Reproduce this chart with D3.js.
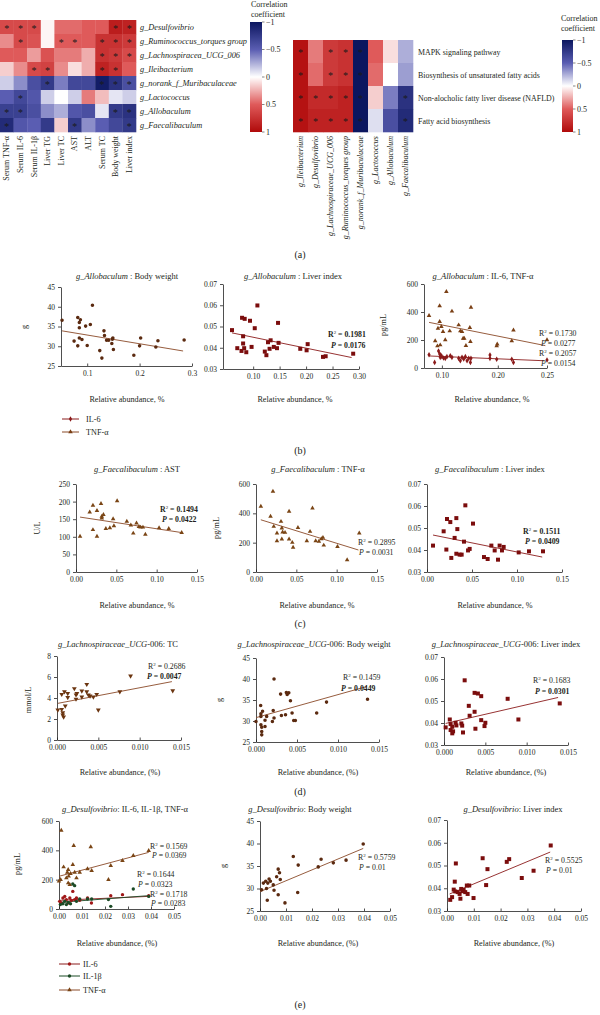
<!DOCTYPE html>
<html><head><meta charset="utf-8">
<script src="https://cdn.jsdelivr.net/npm/d3@7/dist/d3.min.js"></script>
<style>
body{margin:0;background:#fff;}
svg{display:block;font-family:"Liberation Serif","DejaVu Serif",serif;}
</style></head><body>
<svg id="c" width="600" height="1015"></svg>
<script>
// ================= DATA =================
const leftRows = ["g_Desulfovibrio","g_Ruminococcus_torques group","g_Lachnospiracea_UCG_006","g_Ileibacterium","g_norank_f_Muribaculaceae","g_Lactococcus","g_Allobaculum","g_Faecalibaculum"];
const leftCols = ["Serum TNF-α","Serum IL-6","Serum IL-1β","Liver TG","Liver TC","AST","ALT","Serum TC","Body weight","Liver index"];
const leftValues = [
 [0.6,0.6,0.6,0.03,0.45,0.45,0.5,0.5,0.88,0.85],
 [0.35,0.6,0.55,0.03,0.5,0.5,0.5,0.75,0.75,0.7],
 [0.5,0.5,0.3,0.55,0.4,0.4,0.25,0.75,0.7,0.6],
 [0.15,0.35,0.6,0.65,0.35,0.1,0.25,0.85,0.75,0.5],
 [-0.15,-0.35,-0.6,-0.75,-0.4,-0.65,-0.65,-0.95,-0.8,-0.6],
 [-0.5,-0.65,-0.55,-0.15,0.0,-0.15,0.4,0.2,-0.08,-0.15],
 [-0.7,-0.7,-0.6,-0.35,-0.25,-0.55,-0.6,-0.08,-0.75,-0.8],
 [-0.85,-0.55,-0.5,-0.75,0.15,-0.75,-0.35,-0.5,-0.65,-0.75]
];
const leftSig = [[0,1,2,8,9],[1,4,5,7,8,9],[7,8,9],[2,3,7,8],[3,7,8,9],[1],[0,1,8,9],[0,5,9]];

const rightRows = ["MAPK signaling pathway","Biosynthesis of unsaturated fatty acids","Non-alocholic fatty liver disease (NAFLD)","Fatty acid biosynthesis"];
const rightCols = ["g_Ileibacterium","g_Desulfovibrio","g_Lachnospiraceae_UCG_006","g_Ruminococcus_torques group","g_norank_f_Muribaculaceae","g_Lactococcus","g_Allobaculum","g_Faecalibaculum"];
const rightValues = [
 [0.95,0.4,0.7,0.75,-1,0.5,0.1,-0.25],
 [0.95,0.45,0.7,0.75,-1,0.45,0.0,-0.3],
 [0.95,0.8,0.8,0.85,-1,0.15,-0.4,-0.8],
 [0.95,0.85,0.85,0.85,-1,-0.1,-0.6,-0.85]
];
const rightSig = [[0,2,3,4],[0,2,3,4],[0,1,2,3,4,7],[0,1,2,3,4,7]];
const corrTicks = [-1,-0.5,0,0.5,1];

// (b) Allobaculum
const b1Weight = [[0.052,36.6],[0.082,37.3],[0.087,36.7],[0.085,36.0],[0.085,34.7],[0.097,35.1],[0.106,35.5],[0.110,40.4],[0.075,31.3],[0.085,32.1],[0.090,31.7],[0.082,30.1],[0.100,30.2],[0.132,33.9],[0.133,32.7],[0.137,31.5],[0.141,31.5],[0.148,31.8],[0.147,30.7],[0.149,32.1],[0.150,29.2],[0.124,28.9],[0.128,27.0],[0.189,27.7],[0.200,30.1],[0.202,32.1],[0.231,29.8],[0.235,31.4],[0.285,31.6]];
const b1WeightFit = [[0.052,33.9],[0.283,28.8]];
const b2Liver = [[0.060,0.0483],[0.070,0.0398],[0.078,0.0385],[0.079,0.0541],[0.084,0.0536],[0.081,0.0454],[0.081,0.0420],[0.083,0.0398],[0.087,0.0379],[0.094,0.0527],[0.097,0.0404],[0.103,0.0492],[0.108,0.0599],[0.122,0.0382],[0.125,0.0365],[0.128,0.0426],[0.131,0.0395],[0.133,0.0435],[0.139,0.0404],[0.145,0.0398],[0.147,0.0517],[0.148,0.0423],[0.189,0.0395],[0.201,0.0388],[0.203,0.0417],[0.232,0.0357],[0.237,0.0360],[0.289,0.0372]];
const b2LiverFit = [[0.060,0.0470],[0.286,0.0354]];
const b3TNF = [[0.077,374],[0.096,443],[0.096,331],[0.099,295],[0.093,283],[0.088,193],[0.092,157],[0.097,164],[0.102,260],[0.106,200],[0.108,545],[0.118,405],[0.114,264],[0.130,307],[0.133,264],[0.136,260],[0.138,212],[0.140,212],[0.143,160],[0.150,288],[0.151,188],[0.152,433],[0.199,171],[0.198,157],[0.225,193],[0.228,271],[0.288,200]];
const b3TNFFit = [[0.077,326],[0.285,160]];
const b3IL6 = [[0.077,95],[0.087,40],[0.094,121],[0.096,100],[0.097,76],[0.098,93],[0.100,81],[0.103,71],[0.106,69],[0.109,81],[0.115,88],[0.118,76],[0.130,69],[0.133,52],[0.136,76],[0.139,64],[0.142,81],[0.145,52],[0.148,69],[0.151,40],[0.152,69],[0.186,93],[0.186,69],[0.198,62],[0.225,62],[0.228,40],[0.288,57]];
const b3IL6Fit = [[0.077,86],[0.282,52]];
const b3XTicks = [0.10,0.20,0.288];
const b3XLabels = ["0.10","0.20","0.25"];

// (c) Faecalibaculum
const c1AST = [[0.005,101],[0.017,170],[0.021,189],[0.026,174],[0.021,120],[0.026,101],[0.031,194],[0.032,158],[0.034,163],[0.032,153],[0.037,123],[0.042,125],[0.046,151],[0.047,131],[0.051,202],[0.063,144],[0.068,133],[0.071,110],[0.075,139],[0.078,129],[0.080,127],[0.083,127],[0.086,107],[0.103,125],[0.115,123],[0.131,112]];
const c1ASTFit = [[0.005,156],[0.131,112]];
const c2TNF = [[0.006,447],[0.018,379],[0.021,550],[0.022,310],[0.026,265],[0.026,212],[0.031,344],[0.032,299],[0.033,271],[0.032,224],[0.036,269],[0.041,413],[0.041,224],[0.045,201],[0.046,167],[0.052,303],[0.063,212],[0.067,276],[0.070,435],[0.074,212],[0.078,208],[0.081,226],[0.083,235],[0.084,182],[0.101,173],[0.113,82],[0.128,265]];
const c2TNFFit = [[0.006,356],[0.127,150]];
const c3Liver = [[0.0067,0.0420],[0.0185,0.0485],[0.0215,0.0402],[0.0222,0.0541],[0.0259,0.0527],[0.0270,0.0364],[0.0307,0.0455],[0.0326,0.0545],[0.0337,0.0495],[0.0326,0.0383],[0.0363,0.0379],[0.0385,0.0379],[0.0411,0.0438],[0.0426,0.0603],[0.0456,0.0398],[0.0474,0.0405],[0.0511,0.0520],[0.0633,0.0368],[0.0674,0.0359],[0.0715,0.0420],[0.0752,0.0398],[0.0789,0.0356],[0.0807,0.0420],[0.0833,0.0398],[0.0852,0.0414],[0.1019,0.0389],[0.1133,0.0394],[0.1289,0.0394]];
const c3LiverFit = [[0.0067,0.0468],[0.128,0.0368]];

// (d) Lachnospiraceae_UCG-006
const d1TC = [[0.0001,2.86],[0.00057,4.35],[0.00057,2.92],[0.0007,2.6],[0.0007,2.38],[0.0008,2.2],[0.0009,4.6],[0.001,3.24],[0.0013,4.44],[0.0013,4.06],[0.0021,4.9],[0.0023,4.3],[0.0023,3.9],[0.0024,4.44],[0.003,4.67],[0.003,4.1],[0.0036,5.3],[0.0036,4.6],[0.0038,4.3],[0.004,4.2],[0.0044,4.1],[0.0048,4.35],[0.005,2.86],[0.0076,4.6],[0.0089,6.1],[0.014,4.7]];
const d1TCFit = [[0.0001,3.49],[0.0139,5.56]];
const d2Weight = [[0.0,29.9],[0.00057,33.7],[0.0006,31.7],[0.0006,31.1],[0.0006,29.1],[0.0007,28.5],[0.0007,27.5],[0.0007,26.7],[0.0008,32.3],[0.0011,28.7],[0.0011,30.2],[0.0013,31.1],[0.0021,32.5],[0.0022,30.7],[0.0022,40.0],[0.0020,29.9],[0.0031,31.3],[0.003,36.4],[0.0037,36.8],[0.0038,36.3],[0.004,36.7],[0.0036,31.5],[0.0042,34.8],[0.0044,31.9],[0.0046,30.1],[0.0048,30.1],[0.0074,31.9],[0.0086,34.5],[0.0136,35.2]];
const d2WeightFit = [[0.0,30.8],[0.0135,38.2]];
const d3Liver = [[0.0002,0.0380],[0.0007,0.0416],[0.0008,0.0395],[0.0008,0.0368],[0.001,0.0383],[0.001,0.0353],[0.0011,0.0362],[0.0014,0.0401],[0.0015,0.0389],[0.0021,0.0398],[0.0022,0.0388],[0.0023,0.0357],[0.0025,0.0594],[0.003,0.0478],[0.0031,0.0433],[0.0037,0.0451],[0.0037,0.0537],[0.0038,0.0374],[0.0041,0.0534],[0.0045,0.0522],[0.0045,0.0413],[0.0049,0.0386],[0.005,0.0401],[0.0077,0.0510],[0.009,0.0416],[0.014,0.0489]];
const d3LiverFit = [[0.0002,0.0398],[0.0138,0.0516]];

// (e) Desulfovibrio
const e1TNF = [[0.001,536],[0.0,189],[0.0007,200],[0.002,286],[0.0032,211],[0.0036,250],[0.004,268],[0.0042,223],[0.004,177],[0.0047,166],[0.005,241],[0.006,302],[0.0064,432],[0.0068,250],[0.0076,211],[0.009,250],[0.0124,273],[0.0138,423],[0.0142,261],[0.0215,200],[0.0225,295],[0.0276,330],[0.0323,364],[0.039,398]];
const e1TNFFit = [[0.0,223],[0.039,386]];
const e1IL6 = [[0.0003,52],[0.001,41],[0.0017,75],[0.0025,86],[0.0032,64],[0.004,41],[0.0047,75],[0.0054,59],[0.006,120],[0.0068,64],[0.0076,75],[0.009,59],[0.0124,75],[0.0141,41],[0.0225,91],[0.0276,98],[0.039,91]];
const e1IL6Fit = [[0.0,59],[0.039,86]];
const e1IL1b = [[0.0006,30],[0.0017,36],[0.0025,52],[0.0032,30],[0.004,45],[0.005,36],[0.006,170],[0.0068,159],[0.0076,52],[0.009,68],[0.0124,68],[0.0142,68],[0.0215,64],[0.0225,18],[0.0323,136],[0.039,86]];
const e1IL1bFit = [[0.0,45],[0.039,91]];
const e2Weight = [[0.0006,29.7],[0.0013,31.2],[0.0022,31.6],[0.0025,30.0],[0.003,31.2],[0.0035,32.1],[0.004,31.6],[0.0028,27.4],[0.0051,30.8],[0.0054,29.6],[0.0064,32.6],[0.007,34.3],[0.0075,33.5],[0.0078,32.0],[0.007,28.6],[0.0096,26.8],[0.0128,37.1],[0.0147,35.2],[0.0145,29.1],[0.0224,34.8],[0.0235,36.5],[0.0282,35.7],[0.0331,36.3],[0.0397,39.9]];
const e2WeightFit = [[0.0,29.3],[0.0397,38.9]];
const e3Liver = [[0.0012,0.0349],[0.0019,0.0361],[0.0025,0.0394],[0.0029,0.0429],[0.0033,0.0509],[0.0031,0.0386],[0.004,0.0383],[0.0047,0.0375],[0.005,0.0354],[0.0053,0.0397],[0.0057,0.0387],[0.0062,0.0393],[0.0068,0.0383],[0.0074,0.0412],[0.0077,0.0375],[0.0083,0.0412],[0.0099,0.0357],[0.0133,0.0532],[0.0146,0.0414],[0.0151,0.0484],[0.0223,0.0516],[0.0232,0.0528],[0.0279,0.0445],[0.0323,0.0477],[0.0387,0.0588]];
const e3LiverFit = [[0.001,0.0375],[0.0385,0.0559]];

// ================= DRAW =================
const svg = d3.select("#c");
const TXT = "#231f20";
const color = d3.scaleLinear().domain(corrTicks).range(["#0b165f","#5a5db2","#ffffff","#df5a5a","#b00a0a"]);

function heatmap(rows, cols, vals, sig, box, rowLabelX, rowFont, rowItalic, colItalic){
  const x = d3.scaleBand().domain(d3.range(cols.length)).range([box.x0, box.x1]);
  const y = d3.scaleBand().domain(d3.range(rows.length)).range([box.y0, box.y1]);
  const g = svg.append("g");
  vals.forEach((r,i)=>r.forEach((v,j)=>{
    g.append("rect").attr("x",x(j)).attr("y",y(i)).attr("width",x.bandwidth()+0.3).attr("height",y.bandwidth()+0.3).attr("fill",color(v));
  }));
  sig.forEach((cs,i)=>cs.forEach(j=>{
    g.append("text").attr("x",x(j)+x.bandwidth()/2).attr("y",y(i)+y.bandwidth()/2+4.5)
     .attr("text-anchor","middle").attr("font-size",10).attr("fill","#1a1a1a").text("*");
  }));
  rows.forEach((r,i)=>{
    g.append("text").attr("x",rowLabelX).attr("y",y(i)+y.bandwidth()/2+3)
     .attr("font-size",rowFont).attr("font-style",rowItalic?"italic":"normal").attr("fill",TXT).text(r);
  });
  cols.forEach((c,j)=>{
    const cx = x(j)+x.bandwidth()/2+2.5, cy = box.y1+4;
    g.append("text").attr("transform",`translate(${cx},${cy}) rotate(-90)`)
     .attr("text-anchor","end").attr("font-size",8).attr("font-style",colItalic?"italic":"normal").attr("fill",TXT).text(c);
  });
}
heatmap(leftRows,leftCols,leftValues,leftSig,{x0:0,x1:136,y0:20,y1:132},140,8.3,true,false);
heatmap(rightRows,rightCols,rightValues,rightSig,{x0:293,x1:413,y0:40,y1:132},418,7.9,false,true);

// color bars
const defs = svg.append("defs");
const grad = defs.append("linearGradient").attr("id","cb").attr("x1",0).attr("x2",0).attr("y1",0).attr("y2",1);
d3.range(0,1.0001,0.05).forEach(t=>grad.append("stop").attr("offset",t).attr("stop-color",color(-1+2*t)));
function colorbar(x0,w,y0,y1,tx,ty){
  const g = svg.append("g");
  g.append("rect").attr("x",x0).attr("y",y0).attr("width",w).attr("height",y1-y0).attr("fill","url(#cb)");
  const s = d3.scaleLinear().domain([-1,1]).range([y0,y1]);
  corrTicks.forEach(t=>{
    g.append("line").attr("x1",x0+w).attr("x2",x0+w+2.5).attr("y1",s(t)).attr("y2",s(t)).attr("stroke","#333").attr("stroke-width",0.6);
    g.append("text").attr("x",x0+w+4).attr("y",s(t)+2.5).attr("font-size",8).attr("fill",TXT).text(t<0?"−"+Math.abs(t):String(t));
  });
  g.append("text").attr("x",tx).attr("y",ty).attr("font-size",8).attr("fill",TXT).text("Correlation");
  g.append("text").attr("x",tx).attr("y",ty+10).attr("font-size",8).attr("fill",TXT).text("coefficient");
}
colorbar(250,12,22,132,251,7);
colorbar(562,11,40,132,561,21);

// panel labels
[["(a)",258],["(b)",454],["(c)",627],["(d)",795],["(e)",1008]].forEach(([t,y])=>{
  svg.append("text").attr("x",300).attr("y",y).attr("text-anchor","middle").attr("font-size",10).attr("fill",TXT).text(t);
});

const BROWN_LINE = "#8a4a28", RED_LINE = "#8b1c1c";
const symMap = {circle:d3.symbolCircle, square:d3.symbolSquare, triangle:d3.symbolTriangle, tri_down:d3.symbolTriangle, diamond:d3.symbolDiamond};

function marker(g, type, size, col, x, y){
  return g.append("path").attr("d", d3.symbol().type(symMap[type]).size(size)()).attr("fill",col)
   .attr("transform",`translate(${x},${y})${type==="tri_down"?" rotate(180)":""}`);
}

function note(g, x, y, kind, val, bold){
  const t = g.append("text").attr("x",x).attr("y",y).attr("font-size",7.8).attr("fill",TXT);
  if(kind==="R"){
    t.append("tspan").attr("font-weight",bold?"bold":"normal").text("R");
    t.append("tspan").attr("font-size",5).attr("dy",-3).text("2");
    t.append("tspan").attr("dy",3).text(" = ");
  } else {
    t.append("tspan").attr("font-style","italic").attr("font-weight",bold?"bold":"normal").text("P");
    t.append("tspan").text(" = ");
  }
  t.append("tspan").attr("font-weight",bold?"bold":"normal").text(val);
}

function scatter(p){
  const g = svg.append("g");
  const x = d3.scaleLinear().domain(p.xd).range([p.ax,p.ar]);
  const y = d3.scaleLinear().domain(p.yd).range([p.yb,p.yt]);
  const xa = d3.axisBottom(x).tickValues(p.xt).tickSizeInner(-2.5).tickSizeOuter(0).tickPadding(5)
    .tickFormat((d,i)=>p.xlab?p.xlab[i]:d3.format(p.xf)(d));
  const ya = d3.axisLeft(y).tickValues(p.yt_).tickSizeInner(3).tickSizeOuter(0).tickPadding(3)
    .tickFormat(d3.format(p.yf));
  const gx = g.append("g").attr("transform",`translate(0,${p.yb})`).call(xa);
  const gy = g.append("g").attr("transform",`translate(${p.ax},0)`).call(ya);
  [gx,gy].forEach(a=>{
    a.selectAll("path,line").attr("stroke","#222").attr("stroke-width",0.8);
    a.selectAll("text").attr("font-size",7.5).attr("fill",TXT).attr("font-family","Liberation Serif, serif");
  });
  p.series.forEach(s=>{
    g.append("line").attr("x1",x(s.fit[0][0])).attr("y1",y(s.fit[0][1])).attr("x2",x(s.fit[1][0])).attr("y2",y(s.fit[1][1]))
      .attr("stroke",s.line).attr("stroke-width",0.9);
  });
  p.series.forEach(s=>{
    s.data.forEach(d=>marker(g,s.sym,s.size,s.color,x(d[0]),y(d[1])));
  });
  const t = g.append("text").attr("x",p.tx).attr("y",p.ty).attr("text-anchor","middle").attr("font-size",8.5).attr("fill",TXT);
  t.append("tspan").attr("font-style","italic").text(p.title[0]);
  t.append("tspan").text(p.title[1]);
  g.append("text").attr("x",p.xlx).attr("y",p.xly).attr("text-anchor","middle").attr("font-size",8.2).attr("fill",TXT).text(p.xl);
  if(p.yl) g.append("text").attr("transform",`translate(${p.ylx},${p.yly}) rotate(-90)`).attr("text-anchor","middle")
     .attr("font-size",8.2).attr("fill",TXT).text(p.yl);
  (p.notes||[]).forEach(n=>note(g,n[0],n[1],n[2],n[3],n[4]));
}

const RA = "Relative abundance, %", RAP = "Relative abundance, (%)";
const panels = [
 {ax:61,ar:192,yt:287,yb:366,xd:[0.05,0.3],yd:[25,45],xt:[0.1,0.2,0.3],xf:".1f",yt_:[25,30,35,40,45],yf:"d",
  title:["g_Allobaculum"," : Body weight"],tx:127,ty:279,xl:RA,xlx:127,xly:402,yl:"g",ylx:27,yly:327,
  series:[{data:b1Weight,fit:b1WeightFit,sym:"circle",size:10,color:"#5b2a10",line:BROWN_LINE}]},
 {ax:223,ar:359,yt:284,yb:369,xd:[0.043,0.3],yd:[0.03,0.07],xt:[0.1,0.15,0.2,0.25,0.3],xf:".2f",yt_:[0.03,0.04,0.05,0.06,0.07],yf:".2f",
  title:["g_Allobaculum"," : Liver index"],tx:293,ty:279,xl:RA,xlx:295,xly:402,
  series:[{data:b2Liver,fit:b2LiverFit,sym:"square",size:16,color:"#7b0d0d",line:RED_LINE}],
  notes:[[328,337,"R","0.1981",true],[331,348,"P","0.0176",true]]},
 {ax:424,ar:547,yt:284,yb:368,xd:[0.068,0.288],yd:[0,600],xt:b3XTicks,xlab:b3XLabels,xf:".2f",yt_:[0,200,400,600],yf:"d",
  title:["g_Allobaculum"," : IL-6, TNF-α"],tx:483,ty:279,xl:RA,xlx:492,xly:402,yl:"pg/mL",ylx:386,yly:325,
  series:[{data:b3TNF,fit:b3TNFFit,sym:"triangle",size:9,color:"#7a3f14",line:BROWN_LINE},
          {data:b3IL6,fit:b3IL6Fit,sym:"diamond",size:9,color:"#8b1a1a",line:RED_LINE}],
  notes:[[539,336,"R","0.1730",false],[541,346,"P","0.0277",false],[539,356,"R","0.2057",false],[541,366,"P","0.0154",false]]},

 {ax:76,ar:197,yt:484,yb:572,xd:[0,0.15],yd:[0,250],xt:[0,0.05,0.1,0.15],xf:".2f",yt_:[0,50,100,150,200,250],yf:"d",
  title:["g_Faecalibaculum"," : AST"],tx:137,ty:472,xl:RA,xlx:137,xly:608,yl:"U/L",ylx:40,yly:528,
  series:[{data:c1AST,fit:c1ASTFit,sym:"triangle",size:9,color:"#7a4515",line:BROWN_LINE}],
  notes:[[160,512,"R","0.1494",true],[162,522,"P","0.0422",true]]},
 {ax:256,ar:377,yt:484,yb:572,xd:[0,0.15],yd:[0,600],xt:[0,0.05,0.1,0.15],xf:".2f",yt_:[0,200,400,600],yf:"d",
  title:["g_Faecalibaculum"," : TNF-α"],tx:318,ty:472,xl:RA,xlx:317,xly:608,yl:"pg/mL",ylx:219,yly:528,
  series:[{data:c2TNF,fit:c2TNFFit,sym:"triangle",size:9,color:"#7a4515",line:BROWN_LINE}],
  notes:[[358,545,"R","0.2895",false],[359,555,"P","0.0031",false]]},
 {ax:427,ar:562,yt:484,yb:572,xd:[0,0.15],yd:[0.03,0.07],xt:[0,0.05,0.1,0.15],xf:".2f",yt_:[0.03,0.04,0.05,0.06,0.07],yf:".2f",
  title:["g_Faecalibaculum"," : Liver index"],tx:490,ty:472,xl:RA,xlx:495,xly:608,
  series:[{data:c3Liver,fit:c3LiverFit,sym:"square",size:16,color:"#7b0d0d",line:RED_LINE}],
  notes:[[523,534,"R","0.1511",true],[525,544,"P","0.0409",true]]},

 {ax:57,ar:181,yt:656,yb:740,xd:[0,0.015],yd:[0,8],xt:[0,0.005,0.01,0.015],xf:".3f",yt_:[0,2,4,6,8],yf:"d",
  title:["g_Lachnospiraceae_UCG","-006: TC"],tx:118,ty:647,xl:RAP,xlx:120,xly:775,yl:"mmol/L",ylx:31,yly:700,
  series:[{data:d1TC,fit:d1TCFit,sym:"tri_down",size:10,color:"#6b3510",line:BROWN_LINE}],
  notes:[[148,669,"R","0.2686",false],[147,679,"P","0.0047",true]]},
 {ax:256,ar:379,yt:658,yb:742,xd:[0,0.015],yd:[25,45],xt:[0,0.005,0.01,0.015],xf:".3f",yt_:[25,30,35,40,45],yf:"d",
  title:["g_Lachnospiraceae_UCG","-006: Body weight"],tx:314,ty:647,xl:RAP,xlx:318,xly:775,yl:"g",ylx:222,yly:700,
  series:[{data:d2Weight,fit:d2WeightFit,sym:"circle",size:10,color:"#5b2a10",line:BROWN_LINE}],
  notes:[[343,680,"R","0.1459",false],[341,691,"P","0.0449",true]]},
 {ax:444,ar:568,yt:657,yb:745,xd:[0,0.015],yd:[0.03,0.07],xt:[0,0.005,0.01,0.015],xf:".3f",yt_:[0.03,0.04,0.05,0.06,0.07],yf:".2f",
  title:["g_Lachnospiraceae_UCG","-006: Liver index"],tx:506,ty:647,xl:RAP,xlx:506,xly:775,
  series:[{data:d3Liver,fit:d3LiverFit,sym:"square",size:16,color:"#7b0d0d",line:RED_LINE}],
  notes:[[533,683,"R","0.1683",false],[535,694,"P","0.0301",true]]},

 {ax:59,ar:174,yt:821,yb:909,xd:[0,0.05],yd:[0,600],xt:[0,0.01,0.02,0.03,0.04,0.05],xf:".2f",yt_:[0,200,400,600],yf:"d",
  title:["g_Desulfovibrio",": IL-6, IL-1β, TNF-α"],tx:125,ty:812,xl:RAP,xlx:117,xly:946,yl:"pg/mL",ylx:20,yly:864,
  series:[{data:e1TNF,fit:e1TNFFit,sym:"triangle",size:9,color:"#7a4515",line:BROWN_LINE},
          {data:e1IL6,fit:e1IL6Fit,sym:"circle",size:9,color:"#a01818",line:RED_LINE},
          {data:e1IL1b,fit:e1IL1bFit,sym:"circle",size:9,color:"#1b4a25",line:"#1b4a25"}],
  notes:[[150,849,"R","0.1569",false],[152,858,"P","0.0369",false],[137,877,"R","0.1644",false],[138,887,"P","0.0323",false],[150,897,"R","0.1718",false],[151,906,"P","0.0283",false]]},
 {ax:260,ar:390,yt:821,yb:911,xd:[0,0.05],yd:[25,45],xt:[0,0.01,0.02,0.03,0.04,0.05],xf:".2f",yt_:[25,30,35,40,45],yf:"d",
  title:["g_Desulfovibrio",": Body weight"],tx:300,ty:812,xl:RAP,xlx:318,xly:946,yl:"g",ylx:226,yly:866,
  series:[{data:e2Weight,fit:e2WeightFit,sym:"circle",size:10,color:"#5b2a10",line:BROWN_LINE}],
  notes:[[358,860,"R","0.5759",false],[359,870,"P","0.01",false]]},
 {ax:447,ar:581,yt:820,yb:911,xd:[0,0.05],yd:[0.03,0.07],xt:[0,0.01,0.02,0.03,0.04,0.05],xf:".2f",yt_:[0.03,0.04,0.05,0.06,0.07],yf:".2f",
  title:["g_Desulfovibrio",": Liver index"],tx:513,ty:812,xl:RAP,xlx:514,xly:946,
  series:[{data:e3Liver,fit:e3LiverFit,sym:"square",size:16,color:"#7b0d0d",line:RED_LINE}],
  notes:[[545,863,"R","0.5525",false],[546,873,"P","0.01",false]]}
];
panels.forEach(scatter);

// legends
function legend(items, x0, x1, tx){
  items.forEach(it=>{
    svg.append("line").attr("x1",x0).attr("x2",x1).attr("y1",it.y).attr("y2",it.y).attr("stroke",it.line).attr("stroke-width",1);
    marker(svg,it.sym,9,it.color,(x0+x1)/2,it.y);
    svg.append("text").attr("x",tx).attr("y",it.y+3).attr("font-size",8.2).attr("fill",TXT).text(it.label);
  });
}
legend([{label:"IL-6",y:419,sym:"diamond",color:"#8b1a1a",line:RED_LINE},
        {label:"TNF-α",y:432,sym:"triangle",color:"#7a3f14",line:BROWN_LINE}],62,79,86);
legend([{label:"IL-6",y:964,sym:"circle",color:"#a01818",line:RED_LINE},
        {label:"IL-1β",y:976,sym:"circle",color:"#1b4a25",line:"#1b4a25"},
        {label:"TNF-α",y:990,sym:"triangle",color:"#7a4515",line:BROWN_LINE}],59,80,83);
</script>
</body></html>
